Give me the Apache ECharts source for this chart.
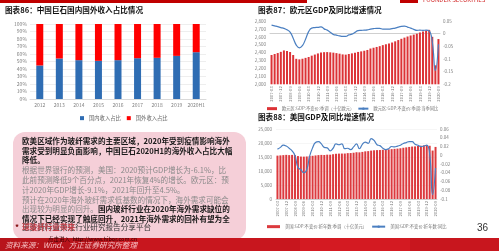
<!DOCTYPE html>
<html><head><meta charset="utf-8">
<script src="https://cdn.jsdelivr.net/npm/echarts@6/dist/echarts.min.js"></script>
<style>html,body{margin:0;padding:0;background:#fff;overflow:hidden}#c{width:499px;height:251px}</style>
</head><body><div id="c"></div>
<script>
// ---- Chart 86: 中国巨石国内国外收入占比 ----
const shareCategories = ['2012','2013','2014','2015','2016','2017','2018','2019','2020H1'];
const domesticShare = [44.7, 54.0, 51.8, 50.9, 51.8, 54.4, 54.9, 57.5, 62.4];
const overseasShare = [55.3, 46.0, 48.2, 49.1, 48.2, 45.6, 45.1, 42.5, 37.6];

// ---- quarterly categories 2007Q1 - 2020Q3 ----
const quarters = [
 '2007-03','2007-06','2007-09','2007-12','2008-03','2008-06','2008-09','2008-12',
 '2009-03','2009-06','2009-09','2009-12','2010-03','2010-06','2010-09','2010-12',
 '2011-03','2011-06','2011-09','2011-12','2012-03','2012-06','2012-09','2012-12',
 '2013-03','2013-06','2013-09','2013-12','2014-03','2014-06','2014-09','2014-12',
 '2015-03','2015-06','2015-09','2015-12','2016-03','2016-06','2016-09','2016-12',
 '2017-03','2017-06','2017-09','2017-12','2018-03','2018-06','2018-09','2018-12',
 '2019-03','2019-06','2019-09','2019-12','2020-03','2020-06','2020-09'];

// ---- Chart 87: 欧元区 ----
const euGdp = [
 2370,2383,2395,2410, 2428,2421,2408,2370, 2322,2315,2323,2334, 2345,2362,2376,2390,
 2403,2406,2407,2404, 2400,2394,2387,2378, 2375,2383,2391,2400, 2409,2416,2424,2434,
 2452,2462,2472,2482, 2495,2506,2516,2528, 2543,2559,2575,2590, 2604,2617,2628,2640,
 2655,2668,2680,2688, 2600,2240,2572];
const euYoy = [
 0.034,0.031,0.028,0.024, 0.021,0.015,0.006,-0.018, -0.045,-0.056,-0.047,-0.022, 0.008,0.022,0.024,0.025,
 0.027,0.019,0.014,0.006, -0.003,-0.006,-0.009,-0.011, -0.011,-0.005,-0.002,0.005, 0.012,0.013,0.014,0.015,
 0.018,0.020,0.021,0.021, 0.018,0.018,0.018,0.020, 0.022,0.026,0.029,0.030, 0.026,0.022,0.017,0.013,
 0.014,0.013,0.014,0.011, -0.032,-0.145,-0.042];

// ---- Chart 88: 美国 ----
const usGdp = [
 15490,15580,15670,15760, 15670,15750,15670,15330, 15160,15130,15190,15350, 15430,15560,15680,15750,
 15710,15830,15820,15990, 16150,16210,16230,16240, 16380,16410,16530,16700, 16660,16820,17020,17100,
 17290,17400,17460,17490, 17580,17620,17720,17810, 17910,18000,18120,18300, 18440,18600,18730,18780,
 18930,19020,19140,19250, 19010,17300,18600];
const usYoy = [
 0.014,0.018,0.023,0.021, 0.016,0.010,-0.001,-0.028, -0.033,-0.040,-0.033,-0.002, 0.017,0.029,0.031,0.026,
 0.018,0.017,0.010,0.016, 0.026,0.024,0.026,0.015, 0.016,0.013,0.019,0.026, 0.015,0.025,0.030,0.027,
 0.038,0.034,0.024,0.022, 0.016,0.013,0.015,0.020, 0.019,0.021,0.023,0.027, 0.029,0.031,0.031,0.025,
 0.023,0.020,0.021,0.023, 0.003,-0.090,-0.029];

const FONT = 'Noto Sans CJK SC';
const lab = (size, color) => ({fontSize: size, color: color || '#7f7f7f', fontFamily: FONT});
const decFmt = v => String(Math.round(v * 1000) / 1000);

const chart = echarts.init(document.getElementById('c'), null, {renderer: 'canvas'});

const textLines = [
  {y:141, t:'{b|欧美区域作为玻纤需求的主要区域，2020年受到疫情影响海外}'},
  {y:150.8, t:'{b|需求受到明显负面影响，中国巨石2020H1的海外收入占比大幅}'},
  {y:160.6, t:'{b|降低。}'},
  {y:170.4, t:'{g|根据世界银行的预测，美国：2020预计GDP增长为-6.1%，比}'},
  {y:180.2, t:'{g|此前预测降低9个百分点，2021年恢复4%的增长。欧元区：预}'},
  {y:190, t:'{g|计2020年GDP增长-9.1%，2021年回升至4.5%。}'},
  {y:199.8, t:'{g|预计在2020年海外玻纤需求低基数的情况下，海外需求可能会}'},
  {y:209.6, t:'{g|出现较为明显的回升。}{b|国内玻纤行业在2020年海外需求缺位的}'},
  {y:219.4, t:'{b|情况下已经实现了触底回升，2021年海外需求的回补有望为全}'}
];
const rich = {
  b: {fontSize: 7.6, fontWeight: 'bold', fill: '#1a1a1a', color: '#1a1a1a', fontFamily: FONT},
  g: {fontSize: 7.6, fill: '#8a8a8a', color: '#8a8a8a', fontFamily: FONT}
};

const graphics = [
  {type:'rect', z:1, shape:{x:0,y:0,width:307,height:3}, style:{fill:'#c00000'}},
  {type:'rect', z:1, shape:{x:400,y:0,width:18,height:3}, style:{fill:'#c00000'}},
  {type:'text', z:1, x:423, y:3, style:{text:'FOUNDER SECURITIES', fontSize:6, fill:'#d02020', verticalAlign:'bottom', fontFamily:FONT}},
  {type:'text', z:5, x:5, y:10, style:{text:'图表86：中国巨石国内国外收入占比情况', fontSize:7.6, fontWeight:'bold', fill:'#111', verticalAlign:'middle', fontFamily:FONT}},
  {type:'text', z:5, x:258, y:10, style:{text:'图表87：欧元区GDP及同比增速情况', fontSize:7.6, fontWeight:'bold', fill:'#111', verticalAlign:'middle', fontFamily:FONT}},
  {type:'text', z:5, x:258, y:117, style:{text:'图表88：美国GDP及同比增速情况', fontSize:7.6, fontWeight:'bold', fill:'#111', verticalAlign:'middle', fontFamily:FONT}},
  {type:'rect', z:2, shape:{x:13,y:132,width:233,height:108,r:12}, style:{fill:'#f5cfd8'}}
];
textLines.forEach(l => graphics.push({type:'text', z:5, x:22, y:l.y, style:{text:l.t, rich:rich, verticalAlign:'middle'}}));
graphics.push(
  {type:'text', z:5, x:22, y:227.5, style:{text:'更多资料请关注行业研究报告分享平台', fontSize:7.6, fill:'#333', verticalAlign:'middle', fontFamily:FONT}},
  {type:'text', z:6, x:22, y:227.5, style:{text:'球玻纤行业带来', fontSize:7.6, fontWeight:'bold', fill:'#c0404a', verticalAlign:'middle', fontFamily:FONT}},
  {type:'text', z:6, x:15, y:227, style:{text:'*', fontSize:8, fontWeight:'bold', fill:'#7a0000', verticalAlign:'middle', fontFamily:FONT}},
  {type:'text', z:5, x:477, y:228, style:{text:'36', fontSize:10, fill:'#333', verticalAlign:'middle', fontFamily:'Liberation Sans'}},
  {type:'rect', z:7, shape:{x:0,y:238,width:499,height:13}, style:{fill:'#c8161e'}},
  {type:'rect', z:7, shape:{x:0,y:238,width:120,height:13}, style:{fill:'#b8141b'}},
  {type:'rect', z:7, shape:{x:300,y:238,width:110,height:13}, style:{fill:'#d41a22'}},
  {type:'text', z:8, x:48, y:238.5, style:{text:'点击进入  http://www.hibor.com.cn', fontSize:5.5, fill:'#3a0000', verticalAlign:'middle', fontFamily:FONT}},
  {type:'text', z:8, x:5, y:245, style:{text:'资料来源：Wind、方正证券研究所整理', fontSize:7.6, fontStyle:'italic', fill:'#f6c0c4', verticalAlign:'middle', fontFamily:FONT}}
);

const option = {
  animation: false,
  backgroundColor: '#ffffff',
  textStyle: {fontFamily: FONT},
  grid: [
    {left:30, top:24, width:176, height:75},
    {left:270, top:21, width:170, height:63.3},
    {left:276, top:129, width:161, height:70}
  ],
  legend: [
    {left:75, top:110.5, itemWidth:4, itemHeight:4, itemGap:6, icon:'rect',
     textStyle: lab(5.3, '#666'), data:['国内收入占比','国外收入占比']},
    {left:262, top:101.5, itemWidth:10, itemHeight:3, itemGap:3,
     textStyle: lab(4.3, '#777'),
     data:[{name:'欧元区:GDP:不变价:季调（十亿欧元）', icon:'rect'}, '欧元区:GDP:不变价:季调:当季同比']},
    {left:262, top:219.5, itemWidth:13, itemHeight:3, itemGap:4,
     textStyle: lab(4.3, '#777'),
     data:[{name:'美国:GDP:不变价:折年数:季调（十亿美元）', icon:'rect'}, '美国:GDP:不变价:折年数:同比']}
  ],
  xAxis: [
    {type:'category', gridIndex:0, data:shareCategories,
     axisLine:{lineStyle:{color:'#d9d9d9'}}, axisTick:{show:false},
     axisLabel:{...lab(5), margin:4, interval:0}},
    {type:'category', gridIndex:1, data:quarters,
     axisLine:{lineStyle:{color:'#cfcfcf'}}, axisTick:{show:false},
     axisLabel:{...lab(4.2, '#7a7a7a'), rotate:90, interval:2, margin:2}},
    {type:'category', gridIndex:2, data:quarters,
     axisLine:{lineStyle:{color:'#cfcfcf'}}, axisTick:{show:false},
     axisLabel:{...lab(4.2, '#7a7a7a'), rotate:90, interval:2, margin:2}}
  ],
  yAxis: [
    {type:'value', gridIndex:0, min:0, max:100, interval:10,
     axisLabel:{...lab(5), formatter:'{value}%', margin:3},
     axisLine:{show:false}, axisTick:{show:false},
     splitLine:{lineStyle:{color:'#e3e3e3', width:0.6}}},
    {type:'value', gridIndex:1, min:2000, max:2800, interval:100,
     axisLabel:{...lab(4.5), margin:4},
     axisLine:{show:false}, axisTick:{show:false}, splitLine:{show:false}},
    {type:'value', gridIndex:1, position:'right', min:-0.2, max:0.05, interval:0.05,
     axisLabel:{...lab(4.5), margin:3, formatter:decFmt},
     axisLine:{show:false}, axisTick:{show:false}, splitLine:{show:false}},
    {type:'value', gridIndex:2, min:0, max:25000, interval:5000,
     axisLabel:{...lab(4.5), margin:4, formatter: v => v.toLocaleString('en-US')},
     axisLine:{show:false}, axisTick:{show:false},
     splitLine:{lineStyle:{color:'#ececec', width:0.5}}},
    {type:'value', gridIndex:2, position:'right', min:-0.1, max:0.06, interval:0.02,
     axisLabel:{...lab(4.5), margin:3, formatter:decFmt},
     axisLine:{show:false}, axisTick:{show:false}, splitLine:{show:false}}
  ],
  series: [
    {name:'国内收入占比', type:'bar', xAxisIndex:0, yAxisIndex:0, stack:'s', barWidth:7,
     itemStyle:{color:'#2f6db3'}, data:domesticShare},
    {name:'国外收入占比', type:'bar', xAxisIndex:0, yAxisIndex:0, stack:'s', barWidth:7,
     itemStyle:{color:'#ff0000'}, data:overseasShare},
    {name:'欧元区:GDP:不变价:季调（十亿欧元）', type:'bar', xAxisIndex:1, yAxisIndex:1, barWidth:2,
     itemStyle:{color:'#dc3236'}, data:euGdp},
    {name:'欧元区:GDP:不变价:季调:当季同比', type:'line', xAxisIndex:1, yAxisIndex:2,
     symbol:'none', smooth:true, lineStyle:{color:'#4a7fc1', width:1.2}, itemStyle:{color:'#4a7fc1'}, data:euYoy, z:5},
    {name:'美国:GDP:不变价:折年数:季调（十亿美元）', type:'bar', xAxisIndex:2, yAxisIndex:3, barWidth:2,
     itemStyle:{color:'#dc3a3e'}, data:usGdp},
    {name:'美国:GDP:不变价:折年数:同比', type:'line', xAxisIndex:2, yAxisIndex:4,
     symbol:'none', smooth:true, lineStyle:{color:'#4a7fc1', width:1.2}, itemStyle:{color:'#4a7fc1'}, data:usYoy, z:5}
  ],
  graphic: graphics
};
chart.setOption(option);
</script>
</body></html>
